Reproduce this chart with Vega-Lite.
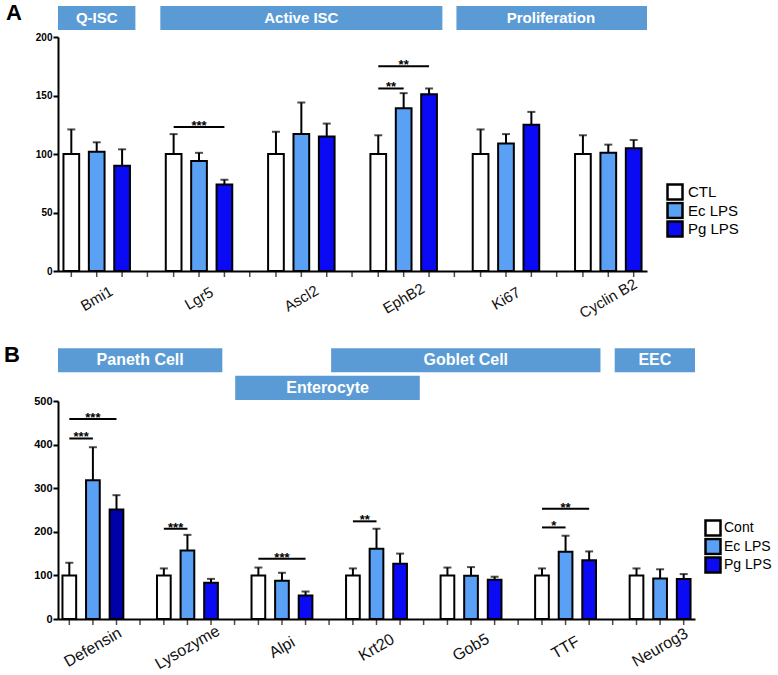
{
  "$schema": "https://vega.github.io/schema/vega-lite/v6.json",
  "padding": {"top": 1, "left": 4, "right": 0, "bottom": 0},
  "config": {"view": {"stroke": null}, "font": "Liberation Sans", "axis": {"grid": false}},
  "spacing": 23,
  "datasets": {
    "barsA": [
      {"gene": "Bmi1", "group": "CTL", "mean": 100, "upper": 121},
      {"gene": "Bmi1", "group": "Ec LPS", "mean": 102, "upper": 110},
      {"gene": "Bmi1", "group": "Pg LPS", "mean": 90, "upper": 104},
      {"gene": "Lgr5", "group": "CTL", "mean": 100, "upper": 117},
      {"gene": "Lgr5", "group": "Ec LPS", "mean": 94, "upper": 101},
      {"gene": "Lgr5", "group": "Pg LPS", "mean": 74, "upper": 78},
      {"gene": "Ascl2", "group": "CTL", "mean": 100, "upper": 119},
      {"gene": "Ascl2", "group": "Ec LPS", "mean": 117, "upper": 144},
      {"gene": "Ascl2", "group": "Pg LPS", "mean": 115, "upper": 126},
      {"gene": "EphB2", "group": "CTL", "mean": 100, "upper": 116},
      {"gene": "EphB2", "group": "Ec LPS", "mean": 139, "upper": 152},
      {"gene": "EphB2", "group": "Pg LPS", "mean": 151, "upper": 156},
      {"gene": "Ki67", "group": "CTL", "mean": 100, "upper": 121},
      {"gene": "Ki67", "group": "Ec LPS", "mean": 109, "upper": 117},
      {"gene": "Ki67", "group": "Pg LPS", "mean": 125, "upper": 136},
      {"gene": "Cyclin B2", "group": "CTL", "mean": 100, "upper": 116},
      {"gene": "Cyclin B2", "group": "Ec LPS", "mean": 101, "upper": 108},
      {"gene": "Cyclin B2", "group": "Pg LPS", "mean": 105, "upper": 112}
    ],
    "sigLinesA": [
      {"id": "a1", "gene": "Lgr5", "group": "CTL", "y": 123},
      {"id": "a1", "gene": "Lgr5", "group": "Pg LPS", "y": 123},
      {"id": "a2", "gene": "EphB2", "group": "CTL", "y": 156},
      {"id": "a2", "gene": "EphB2", "group": "Ec LPS", "y": 156},
      {"id": "a3", "gene": "EphB2", "group": "CTL", "y": 175},
      {"id": "a3", "gene": "EphB2", "group": "Pg LPS", "y": 175}
    ],
    "starsA": [
      {"gene": "Lgr5", "target": "Pg LPS", "y": 123, "label": "***"},
      {"gene": "EphB2", "target": "Ec LPS", "y": 156, "label": "**"},
      {"gene": "EphB2", "target": "Pg LPS", "y": 175, "label": "**"}
    ],
    "headA": [
      {"label": "Q-ISC", "start": "Bmi1", "end": "Bmi1", "mid": "Bmi1", "span": "odd", "tier": "upper"},
      {"label": "Active ISC", "start": "Lgr5", "end": "EphB2", "mid": "Ascl2", "span": "odd", "tier": "upper"},
      {"label": "Proliferation", "start": "Ki67", "end": "Cyclin B2", "mid": "Ki67", "span": "even", "tier": "upper"}
    ],
    "barsB": [
      {"gene": "Defensin", "group": "Cont", "mean": 100, "upper": 129},
      {"gene": "Defensin", "group": "Ec LPS", "mean": 318, "upper": 394},
      {"gene": "Defensin", "group": "Pg LPS", "mean": 251, "upper": 284},
      {"gene": "Lysozyme", "group": "Cont", "mean": 100, "upper": 116},
      {"gene": "Lysozyme", "group": "Ec LPS", "mean": 157, "upper": 193},
      {"gene": "Lysozyme", "group": "Pg LPS", "mean": 83, "upper": 92},
      {"gene": "Alpi", "group": "Cont", "mean": 100, "upper": 118},
      {"gene": "Alpi", "group": "Ec LPS", "mean": 88, "upper": 106},
      {"gene": "Alpi", "group": "Pg LPS", "mean": 54, "upper": 63},
      {"gene": "Krt20", "group": "Cont", "mean": 100, "upper": 116},
      {"gene": "Krt20", "group": "Ec LPS", "mean": 161, "upper": 207},
      {"gene": "Krt20", "group": "Pg LPS", "mean": 127, "upper": 150},
      {"gene": "Gob5", "group": "Cont", "mean": 100, "upper": 118},
      {"gene": "Gob5", "group": "Ec LPS", "mean": 99, "upper": 119},
      {"gene": "Gob5", "group": "Pg LPS", "mean": 90, "upper": 97},
      {"gene": "TTF", "group": "Cont", "mean": 100, "upper": 116},
      {"gene": "TTF", "group": "Ec LPS", "mean": 154, "upper": 191},
      {"gene": "TTF", "group": "Pg LPS", "mean": 135, "upper": 155},
      {"gene": "Neurog3", "group": "Cont", "mean": 100, "upper": 116},
      {"gene": "Neurog3", "group": "Ec LPS", "mean": 93, "upper": 114},
      {"gene": "Neurog3", "group": "Pg LPS", "mean": 92, "upper": 103}
    ],
    "sigLinesB": [
      {"id": "b1", "gene": "Defensin", "group": "Cont", "y": 414},
      {"id": "b1", "gene": "Defensin", "group": "Ec LPS", "y": 414},
      {"id": "b2", "gene": "Defensin", "group": "Cont", "y": 459},
      {"id": "b2", "gene": "Defensin", "group": "Pg LPS", "y": 459},
      {"id": "b3", "gene": "Lysozyme", "group": "Cont", "y": 207},
      {"id": "b3", "gene": "Lysozyme", "group": "Ec LPS", "y": 207},
      {"id": "b4", "gene": "Alpi", "group": "Cont", "y": 138},
      {"id": "b4", "gene": "Alpi", "group": "Pg LPS", "y": 138},
      {"id": "b5", "gene": "Krt20", "group": "Cont", "y": 224},
      {"id": "b5", "gene": "Krt20", "group": "Ec LPS", "y": 224},
      {"id": "b6", "gene": "TTF", "group": "Cont", "y": 210},
      {"id": "b6", "gene": "TTF", "group": "Ec LPS", "y": 210},
      {"id": "b7", "gene": "TTF", "group": "Cont", "y": 253},
      {"id": "b7", "gene": "TTF", "group": "Pg LPS", "y": 253}
    ],
    "starsB": [
      {"gene": "Defensin", "target": "Ec LPS", "y": 414, "label": "***"},
      {"gene": "Defensin", "target": "Pg LPS", "y": 459, "label": "***"},
      {"gene": "Lysozyme", "target": "Ec LPS", "y": 207, "label": "***"},
      {"gene": "Alpi", "target": "Pg LPS", "y": 138, "label": "***"},
      {"gene": "Krt20", "target": "Ec LPS", "y": 224, "label": "**"},
      {"gene": "TTF", "target": "Ec LPS", "y": 210, "label": "*"},
      {"gene": "TTF", "target": "Pg LPS", "y": 253, "label": "**"}
    ],
    "headB": [
      {"label": "Paneth Cell", "start": "Defensin", "end": "Lysozyme", "mid": "Defensin", "span": "even", "tier": "upper"},
      {"label": "Enterocyte", "start": "Alpi", "end": "Krt20", "mid": "Alpi", "span": "even", "tier": "lower"},
      {"label": "Goblet Cell", "start": "Krt20", "end": "TTF", "mid": "Gob5", "span": "odd", "tier": "upper"},
      {"label": "EEC", "start": "Neurog3", "end": "Neurog3", "mid": "Neurog3", "span": "odd", "tier": "upper"}
    ]
  },
  "resolve": {"scale": {"x": "independent", "y": "independent", "xOffset": "independent", "color": "independent"}, "legend": {"color": "independent"}},
  "vconcat": [
    {
      "width": 589,
      "height": 234,
      "title": {"text": "A", "anchor": "start", "frame": "group", "fontSize": 22, "fontWeight": "bold", "font": "Liberation Sans", "color": "black", "offset": 0, "dx": -52, "dy": 19},
      "layer": [
        {
          "data": {"name": "barsA"},
          "mark": {"type": "bar", "stroke": "black", "strokeWidth": 2},
          "encoding": {
            "x": {"field": "gene", "type": "nominal", "title": null, "scale": {"domain": ["Bmi1", "Lgr5", "Ascl2", "EphB2", "Ki67", "Cyclin B2"], "paddingInner": 0.2434, "paddingOuter": 0},
              "axis": {"title": null, "ticks": false, "domainWidth": 2, "domainColor": "black", "labelAngle": -30, "labelAlign": "center", "labelBaseline": "middle", "labelPadding": 27, "labelFontSize": 15, "labelFont": "Liberation Sans", "labelColor": "#111111"}},
            "xOffset": {"field": "group", "type": "nominal", "scale": {"domain": ["CTL", "Ec LPS", "Pg LPS"], "paddingInner": 0.381, "paddingOuter": 0.215}},
            "y": {"field": "mean", "type": "quantitative", "title": null, "scale": {"domain": [0, 200], "nice": false, "zero": true},
              "axis": {"title": null, "values": [0, 50, 100, 150, 200], "domainWidth": 2, "domainColor": "black", "tickWidth": 2, "tickSize": 5, "tickColor": "black", "labelFontSize": 10, "labelFontWeight": "bold", "labelPadding": 1, "labelColor": "black", "labelFont": "Liberation Sans"}},
            "color": {"field": "group", "type": "nominal", "scale": {"domain": ["CTL", "Ec LPS", "Pg LPS"], "range": ["#FFFFFF", "#5AA0F5", "#0A0AF5"]},
              "legend": {"title": null, "orient": "none", "legendX": 608, "legendY": 146, "symbolType": "square", "symbolSize": 225, "symbolStrokeColor": "black", "symbolStrokeWidth": 2.5, "symbolOpacity": 1, "labelFontSize": 15, "labelFont": "Liberation Sans", "labelColor": "black", "clipHeight": 18, "rowPadding": 0.5, "labelOffset": 4, "padding": 0}}
          }
        },
        {
          "data": {"name": "headA"},
          "transform": [{"filter": "datum.span === 'odd'"}],
          "mark": {"type": "rect", "fill": "#5B9BD5"},
          "encoding": {
            "x": {"field": "start", "type": "nominal", "title": null, "bandPosition": 0},
            "x2": {"field": "end", "bandPosition": 1},
            "y": {"datum": 206, "type": "quantitative", "title": null},
            "y2": {"datum": 226.5}
          }
        },
        {
          "data": {"name": "headA"},
          "transform": [{"filter": "datum.span === 'even'"}],
          "mark": {"type": "rect", "fill": "#5B9BD5"},
          "encoding": {
            "x": {"field": "start", "type": "nominal", "title": null, "bandPosition": -0.14},
            "x2": {"field": "end", "bandPosition": 1},
            "y": {"datum": 206, "type": "quantitative", "title": null},
            "y2": {"datum": 226.5}
          }
        },
        {
          "data": {"name": "headA"},
          "transform": [{"filter": "datum.span === 'odd'"}],
          "mark": {"type": "text", "color": "white", "fontSize": 15, "fontWeight": "bold", "font": "Liberation Sans", "align": "center", "baseline": "middle"},
          "encoding": {
            "x": {"field": "mid", "type": "nominal", "title": null, "bandPosition": 0.5},
            "y": {"datum": 216.2, "type": "quantitative", "title": null},
            "text": {"field": "label"}
          }
        },
        {
          "data": {"name": "headA"},
          "transform": [{"filter": "datum.span === 'even'"}],
          "mark": {"type": "text", "color": "white", "fontSize": 15, "fontWeight": "bold", "font": "Liberation Sans", "align": "center", "baseline": "middle"},
          "encoding": {
            "x": {"field": "mid", "type": "nominal", "title": null, "bandPosition": 1.08},
            "y": {"datum": 216.2, "type": "quantitative", "title": null},
            "text": {"field": "label"}
          }
        },
        {
          "data": {"name": "barsA"},
          "mark": {"type": "rule", "color": "black", "strokeWidth": 2},
          "encoding": {
            "x": {"field": "gene", "type": "nominal", "title": null},
            "xOffset": {"field": "group", "type": "nominal"},
            "y": {"field": "mean", "type": "quantitative", "title": null},
            "y2": {"field": "upper"}
          }
        },
        {
          "data": {"name": "barsA"},
          "mark": {"type": "tick", "orient": "horizontal", "color": "black", "size": 8, "thickness": 2},
          "encoding": {
            "x": {"field": "gene", "type": "nominal", "title": null},
            "xOffset": {"field": "group", "type": "nominal"},
            "y": {"field": "upper", "type": "quantitative", "title": null}
          }
        },
        {
          "data": {"name": "barsA"},
          "mark": {"type": "tick", "orient": "vertical", "color": "black", "size": 5, "thickness": 1.5, "yOffset": 3.5},
          "encoding": {
            "x": {"field": "gene", "type": "nominal", "title": null},
            "xOffset": {"field": "group", "type": "nominal"},
            "y": {"datum": 0, "type": "quantitative", "title": null}
          }
        },
        {
          "data": {"name": "barsA"},
          "transform": [{"filter": "datum.group === 'CTL' && datum.gene !== 'Cyclin B2'"}],
          "mark": {"type": "tick", "orient": "vertical", "color": "black", "size": 5, "thickness": 1.5, "yOffset": 3.5},
          "encoding": {
            "x": {"field": "gene", "type": "nominal", "title": null, "bandPosition": 1.155},
            "y": {"datum": 0, "type": "quantitative", "title": null}
          }
        },
        {
          "data": {"name": "sigLinesA"},
          "mark": {"type": "line", "color": "black", "strokeWidth": 2},
          "encoding": {
            "x": {"field": "gene", "type": "nominal", "title": null},
            "xOffset": {"field": "group", "type": "nominal"},
            "y": {"field": "y", "type": "quantitative", "title": null},
            "detail": {"field": "id"}
          }
        },
        {
          "data": {"name": "starsA"},
          "transform": [{"filter": "datum.target === 'Pg LPS'"}],
          "mark": {"type": "text", "color": "black", "fontSize": 13, "fontWeight": "bold", "font": "Liberation Sans", "align": "center", "baseline": "alphabetic", "dy": 3},
          "encoding": {
            "x": {"field": "gene", "type": "nominal", "title": null},
            "xOffset": {"datum": "Ec LPS", "type": "nominal"},
            "y": {"field": "y", "type": "quantitative", "title": null},
            "text": {"field": "label"}
          }
        },
        {
          "data": {"name": "starsA"},
          "transform": [{"filter": "datum.target === 'Ec LPS'"}],
          "mark": {"type": "text", "color": "black", "fontSize": 13, "fontWeight": "bold", "font": "Liberation Sans", "align": "center", "baseline": "alphabetic", "dy": 3, "dx": 12.7},
          "encoding": {
            "x": {"field": "gene", "type": "nominal", "title": null},
            "xOffset": {"datum": "CTL", "type": "nominal"},
            "y": {"field": "y", "type": "quantitative", "title": null},
            "text": {"field": "label"}
          }
        }
      ]
    },
    {
      "width": 637,
      "height": 218,
      "title": {"text": "B", "anchor": "start", "frame": "group", "fontSize": 22, "fontWeight": "bold", "font": "Liberation Sans", "color": "black", "offset": 0, "dx": -54, "dy": 19},
      "layer": [
        {
          "data": {"name": "barsB"},
          "mark": {"type": "bar", "stroke": "black", "strokeWidth": 2},
          "encoding": {
            "x": {"field": "gene", "type": "nominal", "title": null, "scale": {"domain": ["Defensin", "Lysozyme", "Alpi", "Krt20", "Gob5", "TTF", "Neurog3"], "paddingInner": 0.2616, "paddingOuter": 0},
              "axis": {"title": null, "ticks": false, "domainWidth": 2, "domainColor": "black", "labelAngle": -30, "labelAlign": "center", "labelBaseline": "middle", "labelPadding": 28, "labelFontSize": 16, "labelFont": "Liberation Sans", "labelColor": "#111111"}},
            "xOffset": {"field": "group", "type": "nominal", "scale": {"domain": ["Cont", "Ec LPS", "Pg LPS"], "paddingInner": 0.419, "paddingOuter": 0.189}},
            "y": {"field": "mean", "type": "quantitative", "title": null, "scale": {"domain": [0, 500], "nice": false, "zero": true},
              "axis": {"title": null, "values": [0, 100, 200, 300, 400, 500], "domainWidth": 2, "domainColor": "black", "tickWidth": 2, "tickSize": 5, "tickColor": "black", "labelFontSize": 11, "labelFontWeight": "bold", "labelPadding": 1, "labelColor": "black", "labelFont": "Liberation Sans"}},
            "color": {"condition": {"test": "datum.gene === 'Defensin' && datum.group === 'Pg LPS'", "value": "#0000A8"}, "field": "group", "type": "nominal", "scale": {"domain": ["Cont", "Ec LPS", "Pg LPS"], "range": ["#FFFFFF", "#5AA0F5", "#0A0AF5"]},
              "legend": {"title": null, "orient": "none", "legendX": 646, "legendY": 118, "symbolType": "square", "symbolSize": 225, "symbolStrokeColor": "black", "symbolStrokeWidth": 2.5, "symbolOpacity": 1, "labelFontSize": 14, "labelFont": "Liberation Sans", "labelColor": "black", "clipHeight": 18, "rowPadding": 0.5, "labelOffset": 2, "padding": 0}}
          }
        },
        {
          "data": {"name": "headB"},
          "transform": [{"filter": "datum.tier === 'upper' && datum.span === 'odd'"}],
          "mark": {"type": "rect", "fill": "#5B9BD5"},
          "encoding": {
            "x": {"field": "start", "type": "nominal", "title": null, "bandPosition": -0.15},
            "x2": {"field": "end", "bandPosition": 1},
            "y": {"datum": 565.8, "type": "quantitative", "title": null},
            "y2": {"datum": 620.9}
          }
        },
        {
          "data": {"name": "headB"},
          "transform": [{"filter": "datum.tier === 'upper' && datum.span === 'even'"}],
          "mark": {"type": "rect", "fill": "#5B9BD5"},
          "encoding": {
            "x": {"field": "start", "type": "nominal", "title": null, "bandPosition": 0},
            "x2": {"field": "end", "bandPosition": 1},
            "y": {"datum": 565.8, "type": "quantitative", "title": null},
            "y2": {"datum": 620.9}
          }
        },
        {
          "data": {"name": "headB"},
          "transform": [{"filter": "datum.tier === 'lower'"}],
          "mark": {"type": "rect", "fill": "#5B9BD5"},
          "encoding": {
            "x": {"field": "start", "type": "nominal", "title": null, "bandPosition": -0.17},
            "x2": {"field": "end", "bandPosition": 1.12},
            "y": {"datum": 502.3, "type": "quantitative", "title": null},
            "y2": {"datum": 558}
          }
        },
        {
          "data": {"name": "headB"},
          "transform": [{"filter": "datum.tier === 'upper' && datum.span === 'odd'"}],
          "mark": {"type": "text", "color": "white", "fontSize": 16, "fontWeight": "bold", "font": "Liberation Sans", "align": "center", "baseline": "middle"},
          "encoding": {
            "x": {"field": "mid", "type": "nominal", "title": null, "bandPosition": 0.425},
            "y": {"datum": 593.4, "type": "quantitative", "title": null},
            "text": {"field": "label"}
          }
        },
        {
          "data": {"name": "headB"},
          "transform": [{"filter": "datum.tier === 'upper' && datum.span === 'even'"}],
          "mark": {"type": "text", "color": "white", "fontSize": 16, "fontWeight": "bold", "font": "Liberation Sans", "align": "center", "baseline": "middle"},
          "encoding": {
            "x": {"field": "mid", "type": "nominal", "title": null, "bandPosition": 1.177},
            "y": {"datum": 593.4, "type": "quantitative", "title": null},
            "text": {"field": "label"}
          }
        },
        {
          "data": {"name": "headB"},
          "transform": [{"filter": "datum.tier === 'lower'"}],
          "mark": {"type": "text", "color": "white", "fontSize": 16, "fontWeight": "bold", "font": "Liberation Sans", "align": "center", "baseline": "middle"},
          "encoding": {
            "x": {"field": "mid", "type": "nominal", "title": null, "bandPosition": 1.153},
            "y": {"datum": 530.3, "type": "quantitative", "title": null},
            "text": {"field": "label"}
          }
        },
        {
          "data": {"name": "barsB"},
          "mark": {"type": "rule", "color": "black", "strokeWidth": 2},
          "encoding": {
            "x": {"field": "gene", "type": "nominal", "title": null},
            "xOffset": {"field": "group", "type": "nominal"},
            "y": {"field": "mean", "type": "quantitative", "title": null},
            "y2": {"field": "upper"}
          }
        },
        {
          "data": {"name": "barsB"},
          "mark": {"type": "tick", "orient": "horizontal", "color": "black", "size": 8, "thickness": 2},
          "encoding": {
            "x": {"field": "gene", "type": "nominal", "title": null},
            "xOffset": {"field": "group", "type": "nominal"},
            "y": {"field": "upper", "type": "quantitative", "title": null}
          }
        },
        {
          "data": {"name": "barsB"},
          "mark": {"type": "tick", "orient": "vertical", "color": "black", "size": 5, "thickness": 1.5, "yOffset": 3.5},
          "encoding": {
            "x": {"field": "gene", "type": "nominal", "title": null},
            "xOffset": {"field": "group", "type": "nominal"},
            "y": {"datum": 0, "type": "quantitative", "title": null}
          }
        },
        {
          "data": {"name": "barsB"},
          "transform": [{"filter": "datum.group === 'Cont' && datum.gene !== 'Neurog3'"}],
          "mark": {"type": "tick", "orient": "vertical", "color": "black", "size": 5, "thickness": 1.5, "yOffset": 3.5},
          "encoding": {
            "x": {"field": "gene", "type": "nominal", "title": null, "bandPosition": 1.175},
            "y": {"datum": 0, "type": "quantitative", "title": null}
          }
        },
        {
          "data": {"name": "sigLinesB"},
          "mark": {"type": "line", "color": "black", "strokeWidth": 2},
          "encoding": {
            "x": {"field": "gene", "type": "nominal", "title": null},
            "xOffset": {"field": "group", "type": "nominal"},
            "y": {"field": "y", "type": "quantitative", "title": null},
            "detail": {"field": "id"}
          }
        },
        {
          "data": {"name": "starsB"},
          "transform": [{"filter": "datum.target === 'Pg LPS'"}],
          "mark": {"type": "text", "color": "black", "fontSize": 13, "fontWeight": "bold", "font": "Liberation Sans", "align": "center", "baseline": "alphabetic", "dy": 3},
          "encoding": {
            "x": {"field": "gene", "type": "nominal", "title": null},
            "xOffset": {"datum": "Ec LPS", "type": "nominal"},
            "y": {"field": "y", "type": "quantitative", "title": null},
            "text": {"field": "label"}
          }
        },
        {
          "data": {"name": "starsB"},
          "transform": [{"filter": "datum.target === 'Ec LPS'"}],
          "mark": {"type": "text", "color": "black", "fontSize": 13, "fontWeight": "bold", "font": "Liberation Sans", "align": "center", "baseline": "alphabetic", "dy": 3, "dx": 11.8},
          "encoding": {
            "x": {"field": "gene", "type": "nominal", "title": null},
            "xOffset": {"datum": "Cont", "type": "nominal"},
            "y": {"field": "y", "type": "quantitative", "title": null},
            "text": {"field": "label"}
          }
        }
      ]
    }
  ]
}
